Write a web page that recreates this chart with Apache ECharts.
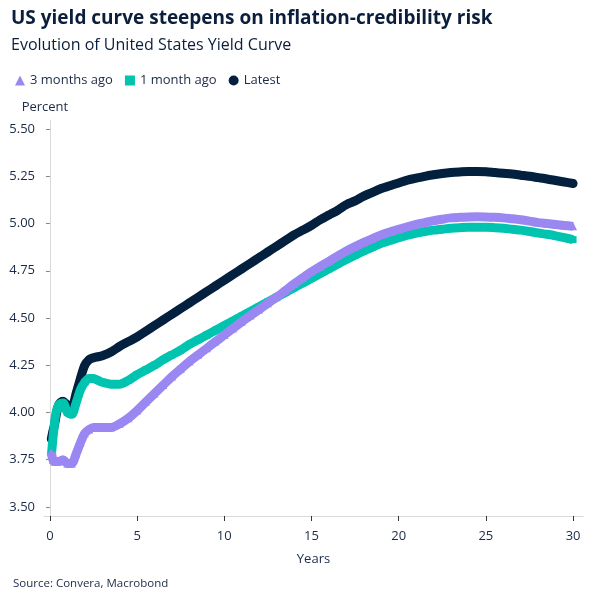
<!DOCTYPE html>
<html>
<head>
<meta charset="utf-8">
<script src="https://cdn.jsdelivr.net/npm/echarts@6/dist/echarts.min.js"></script>
<style>
    html, body { margin: 0; padding: 0; background: #fff; }
    #chart { width: 600px; height: 600px; }
</style>
</head>
<body>
<div id="chart"></div>
<script>
    // maturities in years
    var years = [0.08, 0.17, 0.25, 0.33, 0.5, 0.75, 1, 1.25, 1.5, 1.75, 2, 2.25, 2.5, 2.75, 3,
        3.5, 4, 4.5, 5, 5.5, 6, 6.5, 7, 7.5, 8, 8.5, 9, 9.5, 10, 10.5, 11, 11.5, 12, 12.5, 13,
        13.5, 14, 14.5, 15, 15.5, 16, 16.5, 17, 17.5, 18, 18.5, 19, 19.5, 20, 20.5, 21, 21.5,
        22, 22.5, 23, 23.5, 24, 24.5, 25, 25.5, 26, 26.5, 27, 27.5, 28, 28.5, 29, 29.5, 30];

    var threeMonthsAgo = [3.79, 3.75, 3.74, 3.74, 3.74, 3.75, 3.73, 3.73, 3.78, 3.84, 3.89, 3.91, 3.92, 3.92, 3.92,
        3.92, 3.94, 3.97, 4.01, 4.055, 4.10, 4.145, 4.19, 4.23, 4.27, 4.305, 4.34, 4.375, 4.41, 4.445, 4.48, 4.513, 4.545, 4.578, 4.61,
        4.645, 4.68, 4.713, 4.745, 4.773, 4.80, 4.828, 4.855, 4.878, 4.90, 4.92, 4.94, 4.955, 4.97, 4.983, 4.995, 5.005,
        5.015, 5.023, 5.03, 5.033, 5.035, 5.036, 5.035, 5.033, 5.03, 5.025, 5.02, 5.013, 5.005, 5.0, 4.995, 4.99, 4.985];

    var oneMonthAgo = [3.77, 3.86, 3.93, 3.99, 4.04, 4.05, 4.00, 3.99, 4.05, 4.12, 4.16, 4.18, 4.18, 4.17, 4.16,
        4.15, 4.15, 4.17, 4.20, 4.225, 4.25, 4.28, 4.305, 4.33, 4.36, 4.385, 4.41, 4.435, 4.46, 4.485, 4.51, 4.535, 4.56, 4.585, 4.61,
        4.635, 4.66, 4.685, 4.71, 4.735, 4.76, 4.785, 4.81, 4.833, 4.855, 4.875, 4.895, 4.91, 4.925, 4.938, 4.95, 4.958,
        4.965, 4.97, 4.975, 4.978, 4.98, 4.98, 4.98, 4.978, 4.975, 4.97, 4.965, 4.958, 4.95, 4.943, 4.935, 4.925, 4.915];

    var latest = [3.86, 3.90, 3.93, 3.97, 4.04, 4.06, 4.04, 4.03, 4.10, 4.18, 4.25, 4.28, 4.29, 4.295, 4.30,
        4.32, 4.35, 4.375, 4.40, 4.43, 4.46, 4.49, 4.52, 4.55, 4.58, 4.61, 4.64, 4.67, 4.70, 4.73, 4.76, 4.79, 4.82, 4.85, 4.88,
        4.91, 4.94, 4.965, 4.99, 5.02, 5.045, 5.07, 5.10, 5.12, 5.145, 5.165, 5.185, 5.20, 5.215, 5.23, 5.24, 5.25,
        5.258, 5.265, 5.27, 5.273, 5.275, 5.275, 5.274, 5.27, 5.266, 5.262, 5.256, 5.25, 5.243, 5.236, 5.228, 5.22, 5.212];

    var xTicks = [0, 5, 10, 15, 20, 25, 30];
    var yTicks = [3.5, 3.75, 4, 4.25, 4.5, 4.75, 5, 5.25, 5.5];

    var names = ['3 months ago', '1 month ago', 'Latest'];
    var colors = ['#9b87f2', '#00c4b0', '#03203f'];
    var symbols = ['triangle', 'rect', 'circle'];

    function pairs(vals) {
        return years.map(function (y, i) { return [y, vals[i]]; });
    }

    var font = '"Open Sans", "Noto Sans", sans-serif';
    var textColor = '#1b2a47';

    var chart = echarts.init(document.getElementById('chart'));
    var option = {
        animation: false,
        textStyle: { fontFamily: font },
        title: [
            {
                text: 'US yield curve steepens on inflation-credibility risk',
                subtext: 'Evolution of United States Yield Curve',
                left: 6,
                top: 4,
                itemGap: 9,
                textStyle: { fontFamily: font, fontSize: 19, fontWeight: 'bold', color: '#0b1f3c' },
                subtextStyle: { fontFamily: font, fontSize: 16, color: '#0b1f3c' }
            },
            {
                text: 'Source: Convera, Macrobond',
                left: 8,
                top: 573,
                textStyle: { fontFamily: font, fontSize: 11.5, fontWeight: 'normal', color: '#1b2a47' }
            }
        ],
        legend: {
            left: 10,
            top: 69,
            itemWidth: 10,
            itemHeight: 10,
            itemGap: 12,
            textStyle: { fontFamily: font, fontSize: 13, color: textColor },
            data: names.map(function (n, i) { return { name: n, icon: symbols[i] }; })
        },
        grid: {
            left: 44,
            right: 17,
            top: 120,
            bottom: 84
        },
        xAxis: {
            type: 'value',
            min: -0.34,
            max: 30.57,
            name: 'Years',
            nameLocation: 'middle',
            nameGap: 37,
            nameTextStyle: { fontSize: 13, color: textColor },
            splitLine: { show: false },
            axisLine: { show: true, lineStyle: { color: '#d9d9d9', width: 1 } },
            axisTick: { show: true, length: 5, customValues: xTicks, lineStyle: { color: '#333' } },
            axisLabel: { customValues: xTicks, fontSize: 13, color: textColor, margin: 14 }
        },
        yAxis: {
            type: 'value',
            min: 3.452,
            max: 5.548,
            name: 'Percent',
            nameLocation: 'end',
            nameGap: 6,
            nameTextStyle: { fontSize: 13, color: textColor, padding: [0, 10, 0, 0] },
            splitLine: { show: false },
            axisLine: { show: true, lineStyle: { color: '#d9d9d9', width: 1 } },
            axisTick: { show: true, length: 4, customValues: yTicks, lineStyle: { color: '#888' } },
            axisLabel: {
                customValues: yTicks,
                fontSize: 13,
                color: textColor,
                margin: 9,
                formatter: function (v) { return v.toFixed(2); }
            }
        },
        series: [
            {
                name: 'Latest',
                type: 'line',
                data: pairs(latest),
                smooth: 0.3,
                symbol: 'circle',
                symbolSize: 8,
                itemStyle: { color: colors[2] },
                lineStyle: { color: colors[2], width: 9, cap: 'round' },
                z: 2
            },
            {
                name: '1 month ago',
                type: 'line',
                data: pairs(oneMonthAgo),
                smooth: 0.3,
                symbol: 'rect',
                symbolSize: 7,
                itemStyle: { color: colors[1] },
                lineStyle: { color: colors[1], width: 9 },
                z: 3
            },
            {
                name: '3 months ago',
                type: 'line',
                data: pairs(threeMonthsAgo),
                smooth: 0.3,
                symbol: 'triangle',
                symbolSize: 8,
                itemStyle: { color: colors[0] },
                lineStyle: { color: colors[0], width: 9 },
                z: 4
            }
        ]
    };
    chart.setOption(option);
</script>
</body>
</html>
